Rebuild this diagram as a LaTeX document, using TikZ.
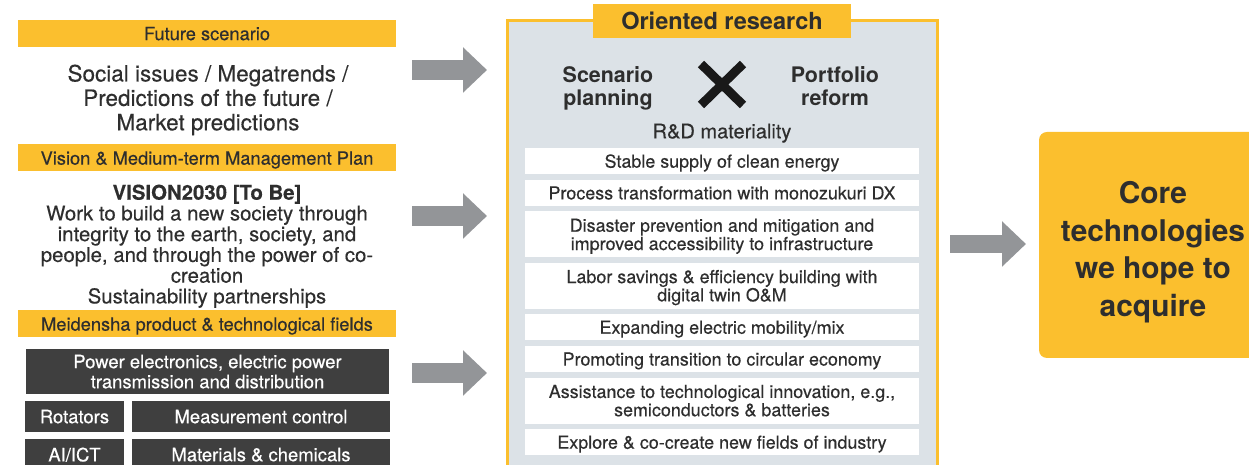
\documentclass[tikz,border=0pt]{standalone}
\usepackage{fontspec}
\setmainfont{TeX Gyre Heros}
\newfontfamily\medfont{TeX Gyre Heros}[FakeBold=0.35]
\usepackage{tikz}
\usetikzlibrary{positioning}
\usetikzlibrary{arrows.meta}
\usepackage{xcolor}
\definecolor{barY}{HTML}{FBBF2E}
\definecolor{darkbox}{HTML}{3F3F3F}
\definecolor{txt}{HTML}{2E2E2E}
\definecolor{arrowgray}{HTML}{939598}
\definecolor{panelF}{HTML}{DCE2E7}
\def\px{0.02cm}

\begin{document}
\begin{tikzpicture}[x=0.02cm, y=-0.02cm,
  every node/.style={inner sep=0pt, text=txt, text depth=0pt},
  hdr/.style={fill=barY, minimum width=378*\px, minimum height=27*\px, font=\medfont\fontsize{10.4}{12}\selectfont},
  field/.style={fill=darkbox, text=white, minimum height=31*\px, align=center, font=\medfont\fontsize{10.5}{11.4}\selectfont},
  goal/.style={fill=white, minimum width=394*\px, align=center, font=\medfont\fontsize{10.2}{10.4}\selectfont},
  goalone/.style={goal, minimum height=26.5*\px},
  goaltwo/.style={goal, minimum height=46*\px},
  bigarrow/.style={line width=0.4cm, draw=arrowgray, -{Triangle[length=0.48cm, width=0.88cm]}}]
  \useasboundingbox (0,0) rectangle (1249,465);
  \clip (0,0) rectangle (1249,465);

  % left column
  \node[hdr] (future) at (207,33.5) {Future scenario};
  \node[align=center, font=\medfont\fontsize{12.8}{13.9}\selectfont] (social) at (208,97.5)
    {Social issues / Megatrends /\\Predictions of the future /\\Market predictions};
  \node[hdr] (vision) at (207,158) {Vision \& Medium-term Management Plan};
  \node[align=center, font=\medfont\fontsize{11.6}{11.8}\selectfont] (tobe) at (207,244)
    {\textbf{VISION2030 [To Be]}\\Work to build a new society through\\integrity to the earth, society, and\\people, and through the power of co-\\creation\\Sustainability partnerships};
  \node[hdr] (fields) at (207,324) {Meidensha product \& technological fields};
  \node[field, minimum width=363*\px, minimum height=45*\px] (pe) at (207.5,371.5)
    {Power electronics, electric power\\transmission and distribution};
  \node[field, minimum width=99*\px] (rot) at (74.5,416.5) {Rotators};
  \node[field, minimum width=258*\px] (meas) at (261,416.5) {Measurement control};
  \node[field, minimum width=99*\px] (ai) at (74.5,454.5) {AI/ICT};
  \node[field, minimum width=258*\px] (mat) at (261,454.5) {Materials \& chemicals};

  % oriented research panel
  \node[draw=barY, line width=0.06cm, fill=panelF, minimum width=430*\px, minimum height=470*\px] (panel) at (722,256) {};
  \node[fill=barY, minimum width=258*\px, minimum height=34*\px, font=\bfseries\fontsize{13.4}{15}\selectfont] (oriented) at (722,21) {Oriented research};
  \node[align=center, font=\bfseries\fontsize{12.2}{13.6}\selectfont] (scen) at (608,86) {Scenario\\planning};
  \node[align=center, font=\bfseries\fontsize{12.2}{13.6}\selectfont] (port) at (835,86) {Portfolio\\reform};
  \draw[line width=0.18cm, draw=black!90] (701,64) -- (743,105) (743,64) -- (701,105);
  \node[font=\medfont\fontsize{11.4}{12}\selectfont] (rd) at (722,131) {R\&D materiality};

  \node[goalone] (g1) at (722,161) {Stable supply of clean energy};
  \node[goalone, below=4.6*\px of g1] (g2) {Process transformation with monozukuri DX};
  \node[goaltwo, below=4.6*\px of g2] (g3) {Disaster prevention and mitigation and\\improved accessibility to infrastructure};
  \node[goaltwo, below=4.6*\px of g3] (g4) {Labor savings \& efficiency building with\\digital twin O\&M};
  \node[goalone, below=4.6*\px of g4] (g5) {Expanding electric mobility/mix};
  \node[goalone, below=4.6*\px of g5] (g6) {Promoting transition to circular economy};
  \node[goaltwo, below=4.6*\px of g6] (g7) {Assistance to technological innovation, e.g.,\\semiconductors \& batteries};
  \node[goalone, below=4.6*\px of g7] (g8) {Explore \& co-create new fields of industry};

  % goal
  \node[fill=barY, rounded corners=0.16cm, minimum width=228*\px, minimum height=226*\px] (core) at (1153,245) {};
  \node[align=center, font=\bfseries\fontsize{17}{21.3}\selectfont] (coretxt) at (1153,249)
    {Core\\technologies\\we hope to\\acquire};

  % arrows
  \coordinate (a1s) at (412,70);  \coordinate (a1e) at (487,70);
  \coordinate (a2s) at (412,216); \coordinate (a2e) at (487,216);
  \coordinate (a3s) at (412,373); \coordinate (a3e) at (487,373);
  \coordinate (a4s) at (950,244); \coordinate (a4e) at (1026,244);
  \draw[bigarrow] (a1s) -- (a1e);
  \draw[bigarrow] (a2s) -- (a2e);
  \draw[bigarrow] (a3s) -- (a3e);
  \draw[bigarrow, line width=0.36cm] (a4s) -- (a4e);
\end{tikzpicture}
\end{document}
